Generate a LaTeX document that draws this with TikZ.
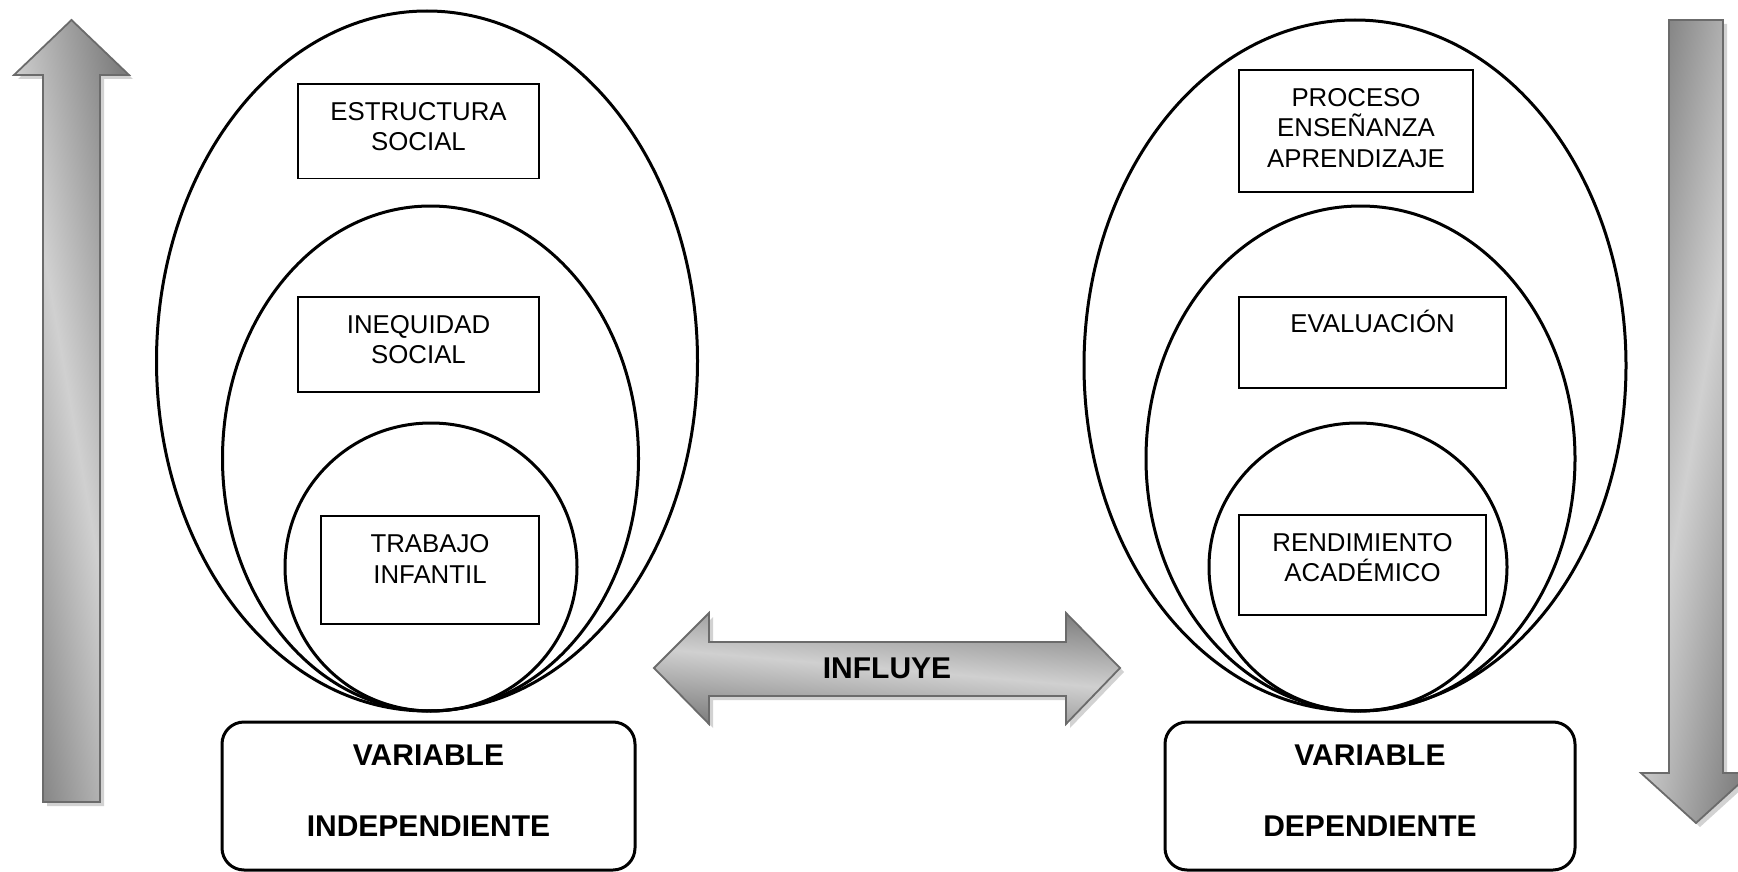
\documentclass[tikz,border=0pt]{standalone}
\usepackage{fontspec}
\setmainfont{Liberation Sans}
\usetikzlibrary{positioning,shadows}
\definecolor{gris1}{HTML}{7E7E7E}
\definecolor{gris2}{HTML}{D0D0D0}
\definecolor{borde}{HTML}{6B6B6B}
\begin{document}
\begin{tikzpicture}[x=1pt,y=-1pt,
	elipse/.style={line width=3pt},
	caja/.style={draw,line width=1.8pt,inner sep=0pt},
	txt/.style={font=\fontsize{25.8}{30.5}\selectfont,align=center,inner sep=0pt},
	var/.style={draw,line width=3pt,rounded corners=22pt},
	vtxt/.style={align=center,font=\bfseries\fontsize{30}{71}\selectfont},
	flecha/.style={draw=borde,line width=1.8pt,left color=gris1,right color=gris1,middle color=gris2,
		drop shadow={shadow xshift=4pt,shadow yshift=-4pt,fill=gray!70,opacity=.5}}]
	\useasboundingbox (0,0) rectangle (1738,872);
	\clip (0,0) rectangle (1738,872);
	\draw[flecha,shading angle=100] (43,802) -- (43,75) -- (14,75) -- (71.5,20) -- (129,75) -- (100,75) -- (100,802) -- cycle;
	\draw[flecha,shading angle=80] (1669,20) -- (1723,20) -- (1723,773) -- (1751,773) -- (1696,823) -- (1641,773) -- (1669,773) -- cycle;
	\draw[flecha,shading angle=175] (654,668) -- (709,613) -- (709,642) -- (1066,642) -- (1066,613) -- (1120,668)
		-- (1066,724) -- (1066,696) -- (709,696) -- (709,724) -- cycle;
	\node[font=\bfseries\fontsize{30}{36}\selectfont] (inf) at (887,668) {INFLUYE};
	\draw[elipse] (427,361) ellipse [x radius=270.5pt, y radius=350pt];
	\draw[elipse] (430.5,458.5) ellipse [x radius=208pt, y radius=252.5pt];
	\draw[elipse] (431,567) ellipse [x radius=146pt, y radius=144pt];
	\draw[elipse] (1355,365.5) ellipse [x radius=271pt, y radius=345.5pt];
	\draw[elipse] (1360.5,458.5) ellipse [x radius=214.5pt, y radius=252.5pt];
	\draw[elipse] (1358,567) ellipse [x radius=149pt, y radius=144pt];
	\node[caja,minimum width=241pt,minimum height=94.5pt] (I1) at (418.5,131.3) {};
	\node[caja,minimum width=241pt,minimum height=95pt] (I2) at (418.5,344.5) {};
	\node[caja,minimum width=218pt,minimum height=107.5pt] (I3) at (430,570) {};
	\node[caja,minimum width=234pt,minimum height=122pt] (D1) at (1356,131) {};
	\node[caja,minimum width=267pt,minimum height=91pt] (D2) at (1372.5,342.5) {};
	\node[caja,minimum width=247pt,minimum height=100pt] (D3) at (1362.5,565) {};
	\node[txt,below=19pt of I1.north] (i1) {ESTRUCTURA\\SOCIAL};
	\node[txt,below=19pt of I2.north] (i2) {INEQUIDAD\\SOCIAL};
	\node[txt,below=19pt of I3.north] (i3) {TRABAJO\\INFANTIL};
	\node[txt,below=19pt of D1.north] (d1) {PROCESO\\ENSEÑANZA\\APRENDIZAJE};
	\node[txt,below=14pt of D2.north] (d2) {EVALUACIÓN};
	\node[txt,below=19pt of D3.north] (d3) {RENDIMIENTO\\ACADÉMICO};
	\node[var,minimum width=413pt,minimum height=148pt] (V1) at (428.5,796) {};
	\node[var,minimum width=410pt,minimum height=148pt] (V2) at (1370,796) {};
	\node[vtxt] (v1) at ([yshift=5pt]V1.center) {VARIABLE\\INDEPENDIENTE};
	\node[vtxt] (v2) at ([yshift=5pt]V2.center) {VARIABLE\\DEPENDIENTE};
\end{tikzpicture}
\end{document}
